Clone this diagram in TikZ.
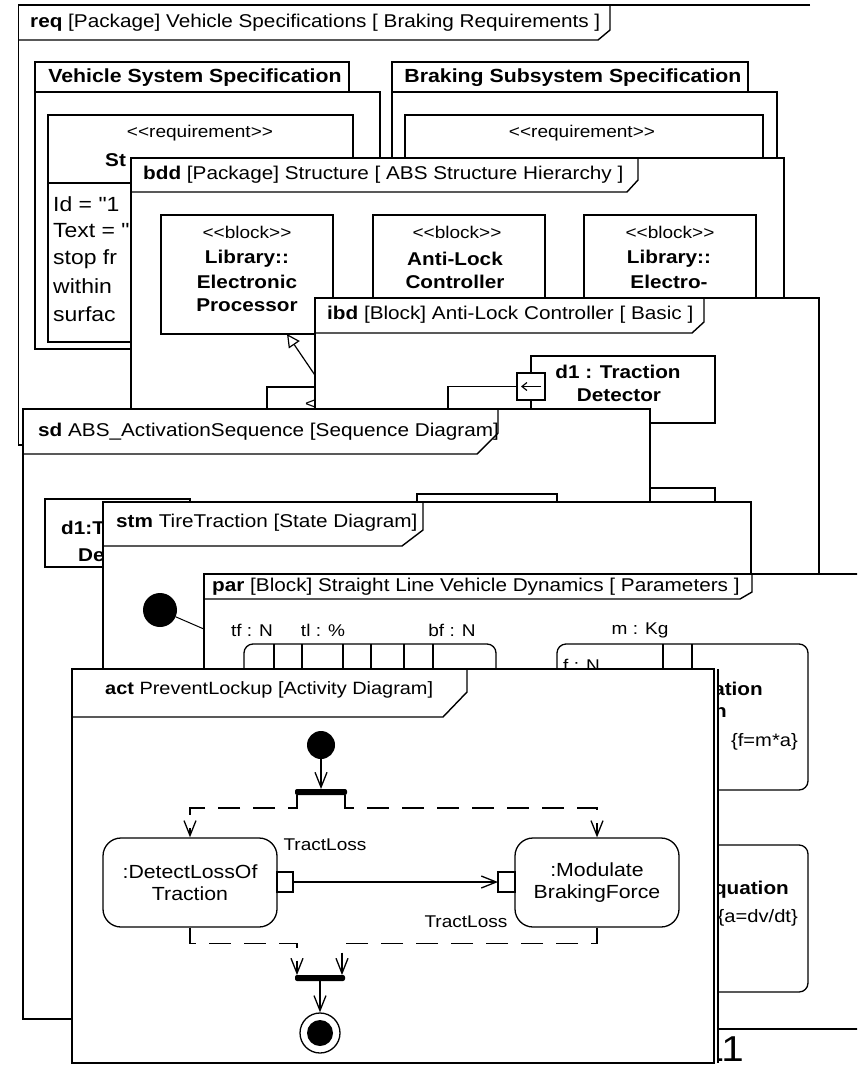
\documentclass[tikz,border=0pt]{standalone}
\usepackage{fontspec}
\setmainfont{Liberation Sans}[FakeStretch=1.12,Ligatures=TeXOff]
\usetikzlibrary{arrows.meta,calc}
\newcommand{\fT}{\fontsize{18.5}{21}\selectfont}
\newcommand{\fB}{\fontsize{18.5}{22}\selectfont}
\newcommand{\fR}{\fontsize{18}{22}\selectfont}
\newcommand{\fQ}{\fontsize{20.5}{24}\selectfont}
\newcommand{\fS}{\fontsize{17}{20}\selectfont}
\begin{document}
\begin{tikzpicture}[x=1pt,y=-1pt,
 frm/.style={draw=black,line width=1.4,fill=white,inner sep=0,outer sep=0,anchor=north west},
 edge/.style={draw=black,line width=1.4},
 ttl/.style={anchor=west,inner sep=0,font=\fT},
 box/.style={draw=black,line width=1.3,fill=white,inner sep=0,outer sep=0,anchor=north west},
 bt/.style={inner sep=0,font=\fB\bfseries},
 rt/.style={inner sep=0,font=\fR},
 qt/.style={inner sep=0,font=\fQ,anchor=west},
 st/.style={inner sep=0,font=\fS},
 actn/.style={draw=black,line width=1.3,fill=white,rounded corners=18,align=center,inner sep=0,font=\fontsize{19}{22}\selectfont},
 pin/.style={draw=black,line width=1.3,fill=white,inner sep=0,outer sep=0},
 flow/.style={draw=black,line width=1.3,-{Straight Barb[length=15,width=12,line width=1.3]}},
 cflow/.style={flow,dash pattern=on 22pt off 13pt},
 bar/.style={fill=black,rounded corners=2,inner sep=0,outer sep=0,minimum height=6},
 cblk/.style={box,rounded corners=9},
]
\useasboundingbox (0,0) rectangle (857,1065);
\clip (0,0) rectangle (857,1065);
\fill[white] (0,0) rectangle (857,1065);

% ---------------- req ----------------
\draw[edge] (810,5) -- (18.5,5) -- (18.5,445) -- (40,445);
\draw[edge] (610,5) -- (610,30) -- (598,40) -- (18.5,40);
\node[ttl] (reqt) at (30,23) {\textbf{req} [Package] Vehicle Specifications [ Braking Requirements ]};

\node[box,minimum width=345,minimum height=257] (vsb) at (35,92) {};
\node[box,minimum width=314,minimum height=30] (vst) at (35,62) {};
\node[inner sep=0,font=\fontsize{19}{22}\selectfont\bfseries] (vstt) at (195,78) {Vehicle System Specification};
\node[box,minimum width=305,minimum height=227] (vsr) at (48,115) {};
\draw[line width=1.3] (vsr.west |- 0,183) -- (vsr.east |- 0,183);
\node[st] (vsr1) at (200,133) {<<requirement>>};
\node[bt,anchor=west] (vsr2) at (105,160) {St};
\node[qt] (vsr3) at (53,204) {Id = "1};
\node[qt] (vsr4) at (53,231) {Text = "};
\node[qt] (vsr5) at (53,259) {stop fr};
\node[qt] (vsr6) at (53,286) {within};
\node[qt] (vsr7) at (53,314) {surfac};

\node[box,minimum width=385,minimum height=300] (bsb) at (392,92) {};
\node[box,minimum width=356,minimum height=30] (bst) at (392,62) {};
\node[inner sep=0,font=\fontsize{19}{22}\selectfont\bfseries] (bstt) at (573,78) {Braking Subsystem Specification};
\node[box,minimum width=358,minimum height=270] (bsr) at (405,115) {};
\node[st] (bsr1) at (582,133) {<<requirement>>};

% ---------------- bdd ----------------
\node[frm,minimum width=653,minimum height=292] (bdd) at (131,158) {};
\draw[edge] (638,158) -- (638,180) -- (627,192) -- (131,192);
\node[ttl] (bddt) at (143,175) {\textbf{bdd} [Package] Structure [ ABS Structure Hierarchy ]};

\node[box,minimum width=172,minimum height=119] (ep) at (161,215) {};
\node[st] (ep1) at (247,232) {<<block>>};
\node[bt] (ep2) at (247,259) {Library::};
\node[bt] (ep3) at (247,282) {Electronic};
\node[bt] (ep4) at (247,305) {Processor};

\node[box,minimum width=172,minimum height=150] (alc) at (373,215) {};
\node[st] (alc1) at (457,232) {<<block>>};
\node[bt] (alc2) at (455,259) {Anti-Lock};
\node[bt] (alc3) at (455,282) {Controller};

\node[box,minimum width=172,minimum height=150] (elm) at (584,215) {};
\node[st] (elm1) at (670,232) {<<block>>};
\node[bt] (elm2) at (669,259) {Library::};
\node[bt] (elm3) at (669,282) {Electro-};

\node[box,minimum width=150,minimum height=80] (absb) at (267,387) {};
\node[st,anchor=west] (absb1) at (305,403) {<<block>>};
\draw[line width=1.2,-{Triangle[open,length=13,width=13,line width=1.2]}] ([xshift=56]absb.north west) -- ([xshift=40]ep.south);

% ---------------- ibd ----------------
\node[frm,minimum width=504,minimum height=302] (ibd) at (315,298) {};
\draw[edge] (704,298) -- (704,322) -- (692,333) -- (315,333);
\node[ttl] (ibdt) at (327,315) {\textbf{ibd} [Block] Anti-Lock Controller [ Basic ]};

\node[box,minimum width=184,minimum height=67] (d1) at (531,356) {};
\node[bt] (d1a) at (618,372) {d1 : Traction};
\node[bt] (d1b) at (619,395) {Detector};
\node[box,minimum width=28,minimum height=27] (port) at (517,373) {};
\draw[line width=1.2,-{Straight Barb[length=5,width=8,line width=1.2]}] ([xshift=-4]port.east) -- ([xshift=4]port.west);
\coordinate (ibdc) at (448,440);
\draw[line width=1.2] (port.west) -| (ibdc);
\node[box,minimum width=115,minimum height=80] (ibdb) at (600,488) {};

% ---------------- sd ----------------
\node[frm,minimum width=627,minimum height=610] (sd) at (23,409) {};
\draw[edge] (498,409) -- (498,433) -- (477,454) -- (23,454);
\node[ttl] (sdt) at (38,432) {\textbf{sd} ABS\_ActivationSequence [Sequence Diagram]};
\node[box,minimum width=145,minimum height=68] (ll1) at (45,499) {};
\node[bt,anchor=west] (ll1a) at (61,528) {d1:T};
\node[bt,anchor=west] (ll1b) at (78,555) {De};
\node[box,minimum width=140,minimum height=70] (ll2) at (417,494) {};

% ---------------- stm ----------------
\node[frm,minimum width=648,minimum height=500] (stm) at (103,502) {};
\draw[edge] (423,502) -- (423,530) -- (402,546) -- (103,546);
\node[ttl] (stmt) at (116,523) {\textbf{stm} TireTraction [State Diagram]};
\node[circle,fill=black,minimum size=34,inner sep=0] (sinit) at (160,610) {};
\coordinate (stmc) at (220,636);
\draw[line width=1] (sinit) -- (stmc);

% ---------------- par ----------------
\node[frm,minimum width=700,minimum height=455] (par) at (204,574) {};
\draw[edge] (752,574) -- (752,592) -- (740,599) -- (204,599);
\node[ttl] (part) at (212,587) {\textbf{par} [Block] Straight Line Vehicle Dynamics [ Parameters ]};
\node[st] (ptf) at (252,630) {tf : N};
\node[st] (ptl) at (323,630) {tl : \%};
\node[st] (pbf) at (452,630) {bf : N};
\node[st] (pm) at (640,630) {m : Kg};
\node[cblk,minimum width=252,minimum height=150] (cb1) at (244,644) {};
\foreach \x in {274,302,343,371,404,433} \draw[line width=1.2] (\x,644) -- (\x,700);
\node[cblk,minimum width=251,minimum height=146] (cb2) at (557,644) {};
\foreach \x in {663,692} \draw[line width=1.2] (\x,644) -- (\x,690);
\node[st,anchor=north west] (cb2f) at (563,659) {f : N};
\node[bt,anchor=east] (cb2a) at (763,689) {ation};
\node[bt,anchor=east] (cb2b) at (727,713) {on};
\node[rt,anchor=east] (cb2c) at (798,742) {\{f=m*a\}};
\node[cblk,minimum width=251,minimum height=147] (cb3) at (557,845) {};
\node[bt,anchor=east] (cb3a) at (789,890) {Equation};
\node[rt,anchor=east] (cb3b) at (798,918) {\{a=dv/dt\}};

\node[anchor=base east,inner sep=0,font=\fontsize{36}{40}\selectfont] (pg) at (744,1061) {11};

% ---------------- act ----------------
\fill[white] (714,669) rectangle (718.6,1063);
\draw[line width=1.2] (718,669) -- (718,1063);
\node[draw=black,line width=2.2,fill=white,anchor=north west,minimum width=642,minimum height=394,inner sep=0,outer sep=0] (actf) at (72,669) {};
\draw[edge] (467,669) -- (467,692) -- (443,717) -- (72,717);
\node[anchor=west,inner sep=0,font=\fontsize{17.8}{20}\selectfont] (actt) at (105,690) {\textbf{act} PreventLockup [Activity Diagram]};

\node[circle,fill=black,minimum size=28,inner sep=0] (ainit) at (321,745) {};
\node[bar,minimum width=52] (fork) at (321,792) {};
\node[actn,minimum width=174,minimum height=89] (dl) at (190,882.5) {:DetectLossOf\\Traction};
\node[actn,minimum width=164,minimum height=89] (mod) at (597,882.5) {:Modulate\\BrakingForce};
\node[pin,minimum width=16,minimum height=20] (op) at (285,882) {};
\node[pin,minimum width=17,minimum height=20] (ip) at (506.5,882) {};
\node[bar,minimum width=50] (join) at (320,978) {};
\node[circle,draw=black,line width=1.3,fill=white,minimum size=40,inner sep=0] (afin) at (320,1033) {};
\node[circle,fill=black,minimum size=26,inner sep=0] (afin2) at (afin) {};

\draw[flow] (ainit) -- (fork);
\draw[cflow] ([xshift=2]fork.south west) -- ++(0,13) -| (dl.north);
\draw[cflow] ([xshift=-2]fork.south east) -- ++(0,13) -| (mod.north);
\draw[flow] (op.east) -- (ip.west);
\draw[cflow] (dl.south) -- ++(0,16) -| ([xshift=2]join.north west);
\draw[cflow] (mod.south) -- ++(0,16) -| ([xshift=-3]join.north east);
\draw[flow] (join) -- (afin);
\node[st] (tl1) at (325,845) {TractLoss};
\node[st] (tl2) at (466,922) {TractLoss};
\end{tikzpicture}
\end{document}
